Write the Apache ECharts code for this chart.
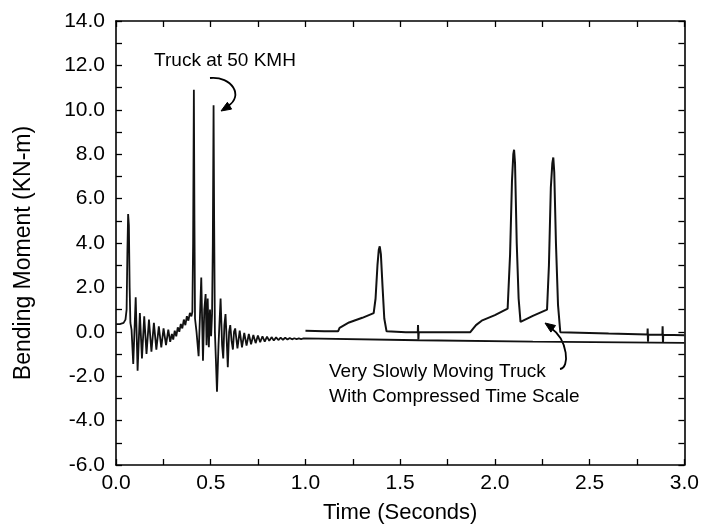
<!DOCTYPE html>
<html><head><meta charset="utf-8">
<script src="https://cdn.jsdelivr.net/npm/echarts@6/dist/echarts.min.js"></script>
<style>html,body{margin:0;padding:0;background:#fff}#c{width:702px;height:530px}</style>
</head><body><div id="c"></div>
<script>
// Truck at 50 KMH (time in s, moment in KN-m)
const fastTime = [0.000,0.020,0.040,0.050,0.056,0.060,0.064,0.068,0.072,0.076,0.082,
  0.091,0.104,0.114,0.126,0.137,0.149,0.161,0.174,0.187,0.200,0.213,0.226,0.239,0.251,0.264,0.276,0.286,
  0.295,0.302,0.310,0.318,0.326,0.334,0.342,0.350,0.358,0.366,0.374,0.382,0.390,0.398,0.403,
  0.407,0.411,0.414,0.417,0.425,0.436,0.450,0.459,0.466,0.473,0.478,0.484,0.490,0.496,0.502,0.507,
  0.511,0.515,0.518,0.522,0.527,0.533,0.541,0.552,0.560,0.566,0.572,0.578,0.584,0.590,0.597,0.603,
  0.610,0.617,0.623,0.629,0.641,0.653,0.665,0.677,0.689,0.701,0.713,0.725,0.737,0.749,0.761,0.773,
  0.785,0.797,0.809,0.821,0.833,0.845,0.857,0.869,0.881,0.893,0.905,0.917,0.929,0.941,0.953,0.965,
  0.977,0.990,1.000,1.600,2.200,3.000];
const fastMoment = [0.35,0.35,0.40,0.55,1.00,3.50,5.30,4.80,2.00,0.40,0.10,
  -1.45,1.55,-1.75,0.85,-1.20,0.70,-1.00,0.55,-0.90,0.40,-0.80,0.25,-0.70,0.15,-0.60,0.10,-0.45,
  -0.10,-0.35,0.05,-0.20,0.20,0.00,0.35,0.15,0.55,0.30,0.70,0.50,0.85,0.70,0.90,
  4.00,10.90,5.00,0.60,0.00,-1.10,2.45,-1.30,1.00,1.70,-0.60,1.50,-0.70,1.00,-0.20,0.80,
  4.00,10.20,5.00,0.00,-1.20,-2.70,-0.60,1.50,-0.60,-1.20,0.30,0.80,-0.30,-1.60,0.00,0.30,
  -0.40,-0.80,0.00,0.15,-0.75,0.05,-0.70,-0.05,-0.62,-0.10,-0.56,-0.14,-0.51,-0.17,-0.47,-0.20,
  -0.44,-0.22,-0.41,-0.24,-0.39,-0.25,-0.37,-0.26,-0.36,-0.27,-0.35,-0.28,-0.34,-0.29,-0.33,-0.30,
  -0.33,-0.30,-0.31,-0.38,-0.44,-0.50];

// Very slowly moving truck, compressed time scale
const slowTime = [1.000,1.100,1.172,1.180,1.190,1.230,1.300,1.360,1.370,1.380,1.387,1.392,1.398,1.407,1.416,1.428,
  1.530,1.593,1.594,1.596,1.598,1.870,1.900,1.930,2.000,2.067,2.080,2.090,2.097,2.101,2.106,2.115,2.125,2.135,
  2.200,2.275,2.285,2.295,2.303,2.308,2.313,2.322,2.333,2.345,2.600,2.805,2.806,2.808,2.809,2.884,2.885,2.887,2.888,3.000];
const slowMoment = [0.05,0.03,0.02,0.18,0.22,0.42,0.63,0.84,1.50,3.00,3.70,3.85,3.50,2.00,0.60,0.02,
  -0.02,-0.02,0.30,-0.35,-0.02,-0.02,0.30,0.50,0.75,1.04,3.50,6.80,8.00,8.20,7.60,4.00,1.50,0.45,
  0.72,1.00,3.00,6.50,7.60,7.85,7.20,4.00,1.20,-0.02,-0.08,-0.12,0.15,-0.45,-0.12,-0.13,0.25,-0.50,-0.13,-0.16];

const xTicks = {min: 0, max: 3, step: 0.5};
const yTicks = {min: -6, max: 14, step: 2};
const xTitle = 'Time (Seconds)';
const yTitle = 'Bending Moment (KN-m)';
const noteFast = 'Truck at 50 KMH';
const noteSlow = ['Very Slowly Moving Truck', 'With Compressed Time Scale'];

const FONT = '"Liberation Sans", Arial, Helvetica, sans-serif';
const fastData = fastTime.map((t, i) => [t, fastMoment[i]]);
const slowData = slowTime.map((t, i) => [t, slowMoment[i]]);

function axisBase(extra) {
  return Object.assign({
    type: 'value',
    axisLine: {show: true, onZero: false, lineStyle: {color: '#000', width: 1.6}},
    axisTick: {show: true, inside: true, length: 6, lineStyle: {color: '#000', width: 1.3}},
    minorTick: {show: true, splitNumber: 2, length: 6, lineStyle: {color: '#000', width: 1.3}},
    splitLine: {show: false},
    minorSplitLine: {show: false}
  }, extra);
}

const chart = echarts.init(document.getElementById('c'), null, {renderer: 'canvas'});
chart.setOption({
  animation: false,
  backgroundColor: '#fff',
  grid: {left: 116, right: 15, top: 21, bottom: 65},
  xAxis: [
    axisBase({position: 'bottom', min: xTicks.min, max: xTicks.max, interval: xTicks.step,
      axisLabel: {show: true, color: '#000', fontSize: 21, fontFamily: FONT, margin: 8,
        formatter: v => v.toFixed(1)},
      name: xTitle, nameLocation: 'middle', nameGap: 37,
      nameTextStyle: {color: '#000', fontSize: 22, fontFamily: FONT}}),
    axisBase({position: 'top', min: xTicks.min, max: xTicks.max, interval: xTicks.step,
      axisLabel: {show: false}})
  ],
  yAxis: [
    axisBase({position: 'left', min: yTicks.min, max: yTicks.max, interval: yTicks.step,
      axisLabel: {show: true, color: '#000', fontSize: 21, fontFamily: FONT, margin: 11,
        formatter: v => v.toFixed(1)}}),
    axisBase({position: 'right', min: yTicks.min, max: yTicks.max, interval: yTicks.step,
      axisLabel: {show: false}})
  ],
  series: [
    {type: 'line', data: fastData, showSymbol: false, lineStyle: {color: '#111', width: 1.8}},
    {type: 'line', data: slowData, showSymbol: false, lineStyle: {color: '#111', width: 2}}
  ],
  graphic: [
    {type: 'text', x: 24, y: 253, rotation: Math.PI / 2,
      style: {text: yTitle, font: '23px ' + FONT, fill: '#000', align: 'center', verticalAlign: 'middle'}},
    {type: 'text', x: 225, y: 61,
      style: {text: noteFast, font: '19px ' + FONT, fill: '#000', align: 'center', verticalAlign: 'middle'}},
    {type: 'text', x: 329, y: 372,
      style: {text: noteSlow[0], font: '19px ' + FONT, fill: '#000', align: 'left', verticalAlign: 'middle'}},
    {type: 'text', x: 329, y: 397,
      style: {text: noteSlow[1], font: '19px ' + FONT, fill: '#000', align: 'left', verticalAlign: 'middle'}},
    {type: 'bezierCurve', shape: {x1: 210, y1: 78, cpx1: 232, cpy1: 76, cpx2: 244, cpy2: 96, x2: 228, y2: 106},
      style: {stroke: '#000', lineWidth: 1.8, fill: null}},
    {type: 'polygon', shape: {points: [[221, 111], [231.6, 109.1], [227.4, 102.3]]},
      style: {fill: '#000', stroke: '#000', lineWidth: 1}},
    {type: 'bezierCurve', shape: {x1: 560, y1: 369, cpx1: 570, cpy1: 368, cpx2: 568, cpy2: 340, x2: 551, y2: 328},
      style: {stroke: '#000', lineWidth: 1.8, fill: null}},
    {type: 'polygon', shape: {points: [[545, 323], [555.5, 325.5], [550.9, 332.1]]},
      style: {fill: '#000', stroke: '#000', lineWidth: 1}}
  ]
});
</script>
</body></html>
